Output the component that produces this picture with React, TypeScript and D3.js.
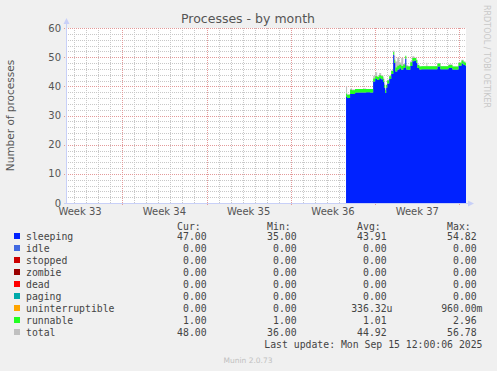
import React from 'react';
import * as d3 from 'd3';

// data: hours after Fri Sep 5 2025 14:00
const hours = [0, 2, 4, 8, 12, 18, 24, 30, 36, 40, 48, 54, 58, 62, 66, 70, 74, 76, 78, 80, 82, 86, 90, 94, 96, 98, 102, 106, 110, 114, 118, 120, 124, 128, 132, 136, 140, 142, 146, 150, 160, 162, 182, 188, 204, 212, 224, 230, 234, 238, 239];
const sleeping = [36.5, 36.0, 36.0, 37.4, 37.4, 37.9, 37.9, 37.9, 37.9, 38.0, 37.9, 41.7, 42.5, 42.2, 42.8, 42.4, 41.5, 39.5, 37.7, 39.5, 41.0, 42.5, 44.2, 50.8, 48.0, 45.1, 45.8, 46.2, 45.7, 46.3, 49.5, 45.8, 45.7, 47.0, 48.6, 48.9, 48.0, 46.3, 45.8, 45.9, 45.9, 45.9, 46.8, 45.9, 46.3, 45.8, 47.1, 47.8, 47.3, 47.0, 47.0];
const runnable = [1.0, 1.0, 1.1, 1.4, 1.3, 1.2, 1.2, 1.2, 1.2, 1.1, 1.2, 1.0, 1.0, 1.1, 1.0, 1.1, 1.0, 1.0, 1.0, 1.0, 1.0, 1.0, 1.1, 1.0, 1.1, 1.4, 1.3, 1.2, 1.3, 1.2, 1.0, 1.1, 1.1, 1.3, 1.1, 0.8, 1.0, 1.0, 1.0, 1.0, 1.0, 1.0, 1.0, 1.0, 1.0, 1.0, 1.0, 1.1, 1.0, 1.0, 1.0];
const total = [40.0, 37.5, 37.3, 39.2, 38.9, 39.1, 39.1, 39.1, 39.3, 39.1, 39.1, 43.6, 44.8, 43.4, 44.6, 43.8, 43.0, 41.0, 38.9, 40.6, 42.3, 43.7, 45.5, 52.3, 50.5, 48.5, 49.8, 48.2, 49.7, 47.7, 50.0, 47.2, 47.0, 48.6, 50.3, 49.8, 49.1, 47.5, 46.9, 46.9, 48.1, 46.9, 47.9, 46.9, 47.6, 46.8, 48.2, 49.1, 48.6, 48.0, 48.0];

const weekLabels = ['Week 33', 'Week 34', 'Week 35', 'Week 36', 'Week 37'];
const yTicks = [0, 10, 20, 30, 40, 50, 60];

const legendNames = ['sleeping', 'idle', 'stopped', 'zombie', 'dead', 'paging', 'uninterruptible', 'runnable', 'total'];
const legendColors = ['#0022ff', '#4169e1', '#cc0000', '#990000', '#ff0000', '#00aaaa', '#ffa500', '#22ff22', '#c0c0c0'];
const curVals = ['47.00', '0.00', '0.00', '0.00', '0.00', '0.00', '0.00', '1.00', '48.00'];
const minVals = ['35.00', '0.00', '0.00', '0.00', '0.00', '0.00', '0.00', '1.00', '36.00'];
const avgVals = ['43.91', '0.00', '0.00', '0.00', '0.00', '0.00', '336.32u', '1.01', '44.92'];
const maxVals = ['54.82', '0.00', '0.00', '0.00', '0.00', '0.00', '960.00m', '2.96', '56.78'];

const W = 497;
const H = 371;
const dataStart = Date.UTC(2025, 8, 5, 14);
const HOUR = 3600 * 1000;
const DAY = 24 * HOUR;

export default function App() {
  const x = d3.scaleUtc()
    .domain([new Date(Date.UTC(2025, 7, 13, 8)), new Date(Date.UTC(2025, 8, 15, 13))])
    .range([66, 466]);
  const y = d3.scaleLinear().domain([0, 60]).range([203, 28]);

  const rows = hours.map((h, i) => ({
    t: new Date(dataStart + h * HOUR),
    s: sleeping[i],
    r: runnable[i],
    tot: total[i],
  }));

  const area = d3.area<any>().curve(d3.curveStepAfter).x((d) => x(d.t));
  const totalPath = area.y0(y(0)).y1((d) => y(d.tot))(rows);
  const sleepPath = area.y0(y(0)).y1((d) => y(d.s))(rows);
  const runPath = area.y0((d) => y(d.s)).y1((d) => y(d.s + d.r))(rows);

  const days = d3.utcDay.range(x.domain()[0], x.domain()[1]);
  const mondays = d3.utcMonday.range(x.domain()[0], x.domain()[1]);
  const firstMon = mondays[0];
  const labelTimes = weekLabels.map((_, i) => new Date(+firstMon + (i - 1) * 7 * DAY + 3.5 * DAY));

  const minorY = d3.range(0, 61, 2).filter((v) => v % 10 !== 0);
  const px = (v: number) => Math.round(v);

  const mono = '"DejaVu Sans Mono", monospace';
  const sans = '"DejaVu Sans", sans-serif';
  const fs = 9.8;
  const cw = fs * 0.602;
  const colRight = [212.5, 302.5, 392.5, 482.5];
  const headers = ['Cur:', 'Min:', 'Avg:', 'Max:'];
  const cols = [curVals, minVals, avgVals, maxVals];
  const rowY = (i: number) => 239 + i * 12;

  const valueX = (col: number, v: string) => {
    const hasSuffix = /[a-zA-Z]$/.test(v);
    const len = hasSuffix ? v.length : v.length + 1;
    return colRight[col] - len * cw;
  };

  return (
    <svg width={W} height={H} style={{ position: 'absolute', left: 0, top: 0, background: '#f0f0f0' }}>
      <defs>
        <pattern id="hMinor" patternUnits="userSpaceOnUse" width={2} height={1}>
          <rect width={1} height={1} fill="#c8c8c8" />
        </pattern>
        <pattern id="vMinor" patternUnits="userSpaceOnUse" width={1} height={2}>
          <rect width={1} height={1} fill="#c8c8c8" />
        </pattern>
        <pattern id="hMajor" patternUnits="userSpaceOnUse" width={2} height={1}>
          <rect width={1} height={1} fill="#e39a9a" />
        </pattern>
        <pattern id="vMajor" patternUnits="userSpaceOnUse" width={1} height={2}>
          <rect width={1} height={1} fill="#e39a9a" />
        </pattern>
      </defs>
      <rect x={0} y={0} width={W} height={H} fill="#f0f0f0" />
      <rect x={66} y={28} width={400} height={175} fill="#ffffff" />

      <g shapeRendering="crispEdges">
        {/* minor grid */}
        {days.map((d, i) => (
          <rect key={'vd' + i} x={px(x(d))} y={28} width={1} height={175} fill="url(#vMinor)" />
        ))}
        {minorY.map((v) => (
          <rect key={'hm' + v} x={66} y={px(y(v))} width={400} height={1} fill="url(#hMinor)" />
        ))}
        {/* major grid */}
        {mondays.map((d, i) => (
          <rect key={'vm' + i} x={px(x(d))} y={28} width={1} height={178} fill="url(#vMajor)" />
        ))}
        {yTicks.filter((v) => v > 0).map((v) => (
          <rect key={'hM' + v} x={63} y={px(y(v))} width={403} height={1} fill="url(#hMajor)" />
        ))}
      </g>

      {/* series */}
      <path d={totalPath ?? ''} fill="#c0c0c0" />
      <path d={sleepPath ?? ''} fill="#0022ff" />
      <path d={runPath ?? ''} fill="#22ff22" />

      {/* axes */}
      <g shapeRendering="crispEdges">
        <rect x={66} y={24} width={1} height={180} fill="#c8d0f8" />
        <rect x={64} y={203} width={404} height={1} fill="#c8d0f8" />
      </g>
      <path d="M63.5,24 L66.5,18 L69.5,24 Z" fill="#c8d0f8" />
      <path d="M468,200.5 L474,203.5 L468,206.5 Z" fill="#c8d0f8" />

      {yTicks.map((v) => (
        <text key={'yt' + v} x={61} y={y(v) + 3.5} textAnchor="end" fontFamily={sans} fontSize={10} fill="#555">{v}</text>
      ))}
      {weekLabels.map((l, i) => (
        <text key={l} x={x(labelTimes[i])} y={215} textAnchor="middle" fontFamily={sans} fontSize={10} fill="#555">{l}</text>
      ))}

      <text x={248} y={23} textAnchor="middle" fontFamily={sans} fontSize={12.5} fill="#555">Processes - by month</text>
      <text transform="translate(14,115.5) rotate(-90)" textAnchor="middle" fontFamily={sans} fontSize={10.5} fill="#555">Number of processes</text>
      <text transform="translate(484,5) rotate(90)" textAnchor="start" fontFamily={sans} fontSize={8} fill="#c8c8c8">RRDTOOL / TOBI OETIKER</text>

      {/* legend */}
      {headers.map((h, c) => (
        <text key={h} x={colRight[c] - 6 * cw} y={230} fontFamily={mono} fontSize={fs} fill="#444">{h}</text>
      ))}
      {legendNames.map((n, i) => (
        <g key={n}>
          <rect x={14} y={rowY(i) - 6} width={6} height={6} fill={legendColors[i]} />
          <text x={26} y={rowY(i) + 0.5} fontFamily={mono} fontSize={fs} fill="#444">{n}</text>
          {cols.map((vals, c) => (
            <text key={c} x={valueX(c, vals[i])} y={rowY(i) + 0.5} fontFamily={mono} fontSize={fs} fill="#444">{vals[i]}</text>
          ))}
        </g>
      ))}
      <text x={482.5} y={rowY(9) + 0.5} textAnchor="end" fontFamily={mono} fontSize={fs} fill="#444">Last update: Mon Sep 15 12:00:06 2025</text>
      <text x={248} y={363} textAnchor="middle" fontFamily={sans} fontSize={7.5} fill="#c0c0c0">Munin 2.0.73</text>
    </svg>
  );
}
